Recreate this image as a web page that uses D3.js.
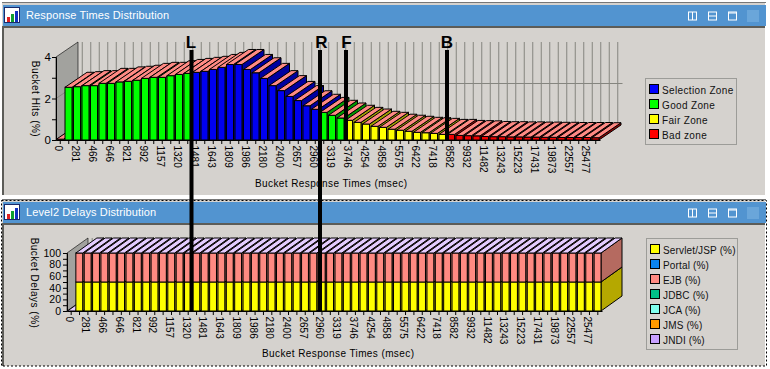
<!DOCTYPE html>
<html><head><meta charset="utf-8">
<script src="https://cdn.jsdelivr.net/npm/d3@7/dist/d3.min.js"></script>
<style>html,body{margin:0;padding:0;background:#fff;overflow:hidden}svg{display:block}text{font-family:"Liberation Sans",sans-serif}</style>
</head><body><svg id="c" width="770" height="369"></svg>
<script>
const topTitle="Response Times Distribution", botTitle="Level2 Delays Distribution";
const tickLabels=["0","281","466","646","821","992","1157","1320","1481","1643","1809","1986","2180","2400","2657","2960","3319","3746","4254","4858","5575","6422","7418","8582","9932","11482","13243","15223","17431","19873","22557","25477"];
const bucketHits=[0.04,2.54,2.57,2.62,2.62,2.73,2.73,2.8,2.83,2.88,2.97,3.02,3.02,3.1,3.16,3.21,3.26,3.31,3.4,3.5,3.64,3.64,3.4,3.24,2.97,2.62,2.38,2.1,1.9,1.65,1.48,1.33,1.19,1.06,0.95,0.85,0.77,0.66,0.61,0.52,0.47,0.42,0.37,0.35,0.32,0.27,0.27,0.22,0.21,0.2,0.17,0.16,0.16,0.15,0.15,0.14,0.14,0.13,0.13,0.12,0.12,0.12,0.12,0.11];
const bucketZones="GGGGGGGGGGGGGGGGBBBBBBBBBBBBBBBGGGYYYYYYYYYYYYRRRRRRRRRRRRRRRRRR".split("");
const servletPct=[0,50,50,50,50,50,50,50,50,50,50,50,50,50,50,50,50,50,50,50,50,50,50,50,50,50,50,50,50,50,50,50,50,50,50,50,50,50,50,50,50,50,50,50,50,50,50,50,50,50,50,50,50,50,50,50,50,50,50,50,50,50,50,50];
const ejbPct=[0,50,50,50,50,50,50,50,50,50,50,50,50,50,50,50,50,50,50,50,50,50,50,50,50,50,50,50,50,50,50,50,50,50,50,50,50,50,50,50,50,50,50,50,50,50,50,50,50,50,50,50,50,50,50,50,50,50,50,50,50,50,50,50];
const zoneLegend=[["Selection Zone","#0000ff"],["Good Zone","#00ff00"],["Fair Zone","#ffff00"],["Bad zone","#ff0000"]];
const delayLegend=[["Servlet/JSP (%)","#ffff00"],["Portal (%)","#0a84f0"],["EJB (%)","#ff8a82"],["JDBC (%)","#00c088"],["JCA (%)","#80ffee"],["JMS (%)","#ff9a00"],["JNDI (%)","#c8a0ff"]];
const markers=[["L",191.5,312,-0.5],["R",320,312,1.5],["F",346,141,0.5],["B",447,141,0]];

const svg=d3.select("#c");
const BG="#d5d2ce", BLUE="#5294d0";
const zoneFront={B:"#0000f0",G:"#00ff00",Y:"#ffff00",R:"#f00000"};
const zoneSide={B:"#0000a0",G:"#009800",Y:"#a0a000",R:"#980000"};

function chrome(y0,y1,title,dashed){
  svg.append("rect").attr("x",2).attr("y",y0).attr("width",763).attr("height",y1-y0).attr("fill",BG);
  svg.append("rect").attr("x",2).attr("y",y0).attr("width",764).attr("height",1).attr("fill","#777");
  svg.append("rect").attr("x",3).attr("y",y0+3).attr("width",763).attr("height",21).attr("fill",BLUE);
  svg.append("rect").attr("x",3).attr("y",y0+24).attr("width",762).attr("height",2).attr("fill","#5c5c58");
  svg.append("rect").attr("x",2).attr("y",y0+24).attr("width",2).attr("height",y1-y0-24).attr("fill","#5c5c58");
  svg.append("rect").attr("x",4.5).attr("y",y0+5.5).attr("width",15).attr("height",15).attr("fill","#fff").attr("stroke","#1a2a6a");
  [[7,9,4,"#e02020"],[11,6,7,"#10a030"],[15,3,10,"#1030c0"]].forEach(b=>svg.append("rect").attr("x",b[0]).attr("y",y0+6+b[1]).attr("width",3).attr("height",b[2]+1).attr("fill",b[3]));
  svg.append("text").attr("x",26).attr("y",y0+17).attr("fill","#fff").style("font-size","11px").style("letter-spacing",".12px").text(title);
  const by=y0+10;
  const bt=svg.append("g").attr("fill","none").attr("stroke","#fff");
  bt.append("rect").attr("x",688.5).attr("y",by).attr("width",8).attr("height",8);
  bt.append("path").attr("d",`M692.5 ${by}V${by+8}`);
  bt.append("rect").attr("x",708.5).attr("y",by).attr("width",8).attr("height",8);
  bt.append("path").attr("d",`M708.5 ${by+4}H716.5`);
  bt.append("rect").attr("x",728.5).attr("y",by).attr("width",8).attr("height",8);
  bt.append("path").attr("d",`M728.5 ${by+1}H736.5`);
  svg.append("rect").attr("x",747).attr("y",by-2).attr("width",12).attr("height",12).attr("fill","#6aa6da");
  bt.append("path").attr("stroke-width",2).attr("d",`M750 ${by+1}L756 ${by+7}M756 ${by+1}L750 ${by+7}`);
  if(dashed) svg.append("rect").attr("x",1.5).attr("y",y0+1.5).attr("width",765).attr("height",y1-y0-1.5).attr("fill","none").attr("stroke","#000").attr("stroke-dasharray","2 2");
}

function chart(o){
  const x=d3.scaleBand().domain(d3.range(o.n)).range(o.xr);
  const y=d3.scaleLinear().domain(o.yd).range([o.base,o.ytop]);
  const dx=o.dx, dy=o.dy, bw=x.bandwidth()-1.5;
  const g=svg.append("g");
  g.append("path").attr("d",`M${o.xr[0]} ${o.base}L${o.xr[0]+dx} ${o.base+dy}V${o.ytop+dy}L${o.xr[0]} ${o.ytop}Z`).attr("fill","#a2a29e").attr("stroke","#000").attr("stroke-width",.6);
  const grid=g.append("g").attr("stroke","#85857f");
  d3.range(o.n).forEach(i=>{const gx=x(i)+x.bandwidth()/2+dx;
    grid.append("line").attr("x1",gx).attr("x2",gx).attr("y1",o.base+dy).attr("y2",o.ytop+dy);});
  (o.gridY||[]).forEach(v=>{
    grid.append("line").attr("x1",o.xr[0]+dx).attr("x2",o.xr[1]+dx+.5).attr("y1",y(v)+dy).attr("y2",y(v)+dy);
    grid.append("line").attr("x1",o.xr[0]).attr("x2",o.xr[0]+dx).attr("y1",y(v)).attr("y2",y(v)+dy);});
  const bars=g.append("g").attr("stroke","#000").attr("stroke-width",1);
  d3.range(o.n).forEach(i=>{
    const X=x(i)+.5, segs=o.segs(i), topV=segs[segs.length-1].to;
    segs.forEach(s=>{
      if(s.to>s.from){
        bars.append("path").attr("fill",s.side).attr("d",`M${X+bw} ${y(s.from)}L${X+bw+dx} ${y(s.from)+dy}V${y(s.to)+dy}L${X+bw} ${y(s.to)}Z`);
        bars.append("rect").attr("x",X).attr("y",y(s.to)).attr("width",bw).attr("height",y(s.from)-y(s.to)).attr("fill",s.front);
      }
    });
    bars.append("path").attr("fill",o.topFill).attr("d",`M${X} ${y(topV)}L${X+dx} ${y(topV)+dy}H${X+bw+dx}L${X+bw} ${y(topV)}Z`);
  });
  const ax=g.append("g").attr("transform",`translate(0,${o.base})`).call(
    d3.axisBottom(x).tickSize(4).tickSizeOuter(0).tickFormat(i=>i%2?"":tickLabels[i/2]));
  ax.select(".domain").attr("stroke","#000");
  ax.selectAll("text").attr("transform","rotate(90)").attr("text-anchor","start").attr("x",5.5).attr("y",o.labelShift).attr("dy",0)
    .attr("fill","#000").style("font-size","10px").style("font-family","'Liberation Sans'");
  const ay=g.append("g").attr("transform",`translate(${o.xr[0]},0)`).call(
    d3.axisLeft(y).tickValues(o.yTicks).tickSize(4).tickPadding(o.yPad).tickFormat(v=>o.yLabels.includes(v)?v:""));
  ay.selectAll("text").attr("fill","#000").style("font-size",o.yFont).style("font-family","'Liberation Sans'");
  svg.append("text").attr("transform",`translate(${o.ytx},${o.yty}) rotate(90)`).attr("text-anchor","middle").style("font-size","10px").style("letter-spacing",".5px").text(o.ytitle);
  svg.append("text").attr("x",o.xtx).attr("y",o.xty).style("font-size","10px").style("letter-spacing",".4px").text("Bucket Response Times (msec)");
  const lg=svg.append("g");
  lg.append("rect").attr("x",o.lx).attr("y",o.ly).attr("width",o.lw).attr("height",o.lh).attr("fill",BG).attr("stroke","#9c9c98").attr("stroke-width",1);
  o.legend.forEach((d,i)=>{const yy=o.ly+6+i*15;
    lg.append("rect").attr("x",o.lx+4).attr("y",yy).attr("width",9).attr("height",9).attr("fill",d[1]).attr("stroke","#000");
    lg.append("text").attr("x",o.lx+16.5).attr("y",yy+9).style("font-size","10px").style("letter-spacing",o.lsp).attr("fill","#111").text(d[0]);});
}

chrome(2,195,topTitle,false);
chrome(199,366,botTitle,true);
chart({n:64,xr:[56,600],yd:[0,4],base:140,ytop:57,dx:22,dy:-15,gridY:[2],
  yTicks:[0,1,2,3,4],yLabels:[0,2,4],yFont:"11.5px",yPad:1,topFill:"#ff8a84",labelShift:5.5,
  segs:i=>[{from:0,to:bucketHits[i],front:zoneFront[bucketZones[i]],side:zoneSide[bucketZones[i]]}],
  ytitle:"Bucket Hits (%)",ytx:32,yty:99,xtx:255,xty:187,
  lx:645.5,ly:78.5,lw:91,lh:66,lsp:".35px",legend:zoneLegend});
chart({n:64,xr:[67,602],yd:[0,100],base:311,ytop:253,dx:21,dy:-15,
  yTicks:d3.range(0,101,10),yLabels:[0,20,40,60,80,100],yFont:"10.5px",yPad:2,topFill:"#e4ccff",labelShift:5.5,
  segs:i=>[{from:0,to:servletPct[i],front:"#ffff00",side:"#b5a800"},{from:servletPct[i],to:servletPct[i]+ejbPct[i],front:"#ff8a82",side:"#b56a60"}],
  ytitle:"Bucket Delays (%)",ytx:31,yty:283,xtx:262,xty:357,
  lx:646.5,ly:238.5,lw:91,lh:111,lsp:".15px",legend:delayLegend});

markers.forEach(m=>{
  svg.append("rect").attr("x",m[1]-2).attr("y",50).attr("width",4).attr("height",m[2]-50).attr("fill","#000");
  svg.append("text").attr("x",m[1]+m[3]).attr("y",48).attr("text-anchor","middle").attr("fill","#000").style("font-size","17px").style("font-weight","bold").text(m[0]);
});
</script></body></html>
